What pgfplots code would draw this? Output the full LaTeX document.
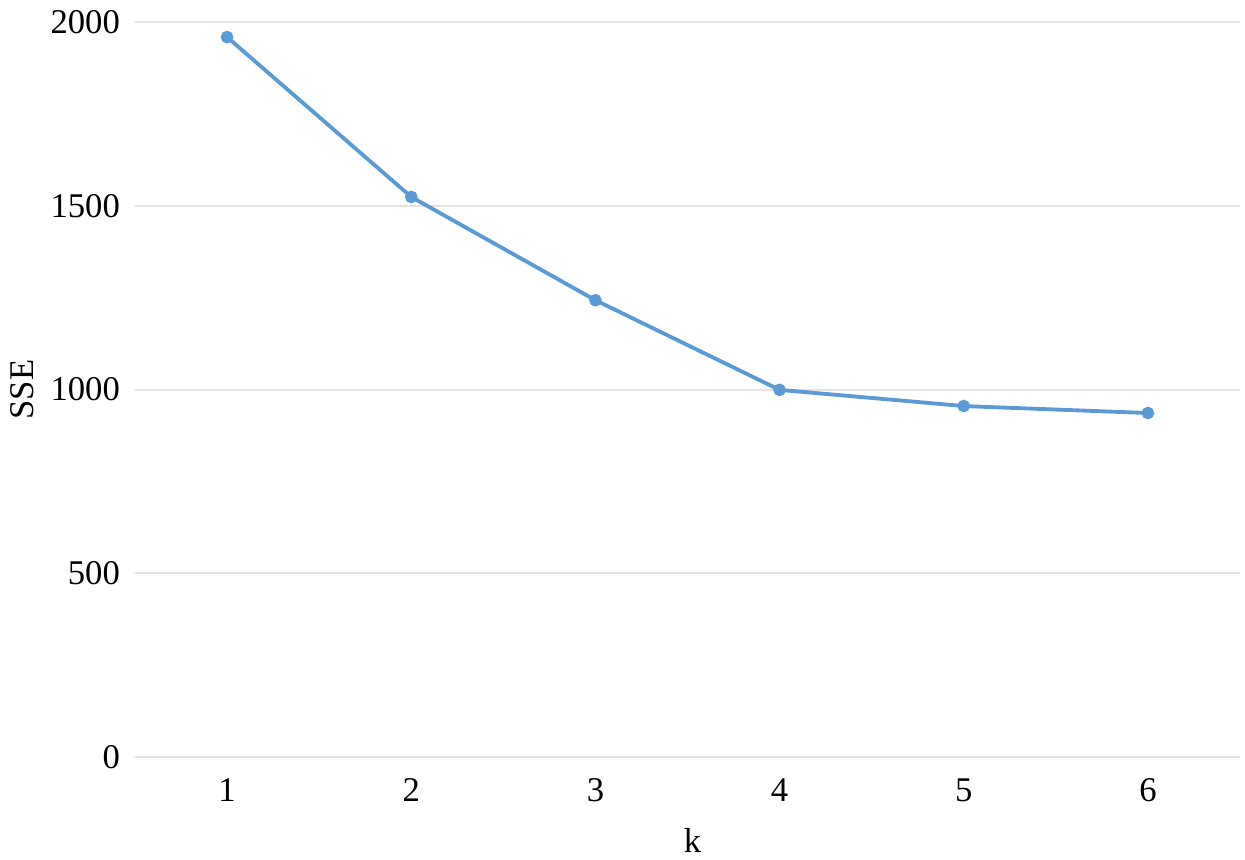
\documentclass[border=0pt]{standalone}
\usepackage{fontspec}
\setmainfont{Liberation Serif}
\usepackage{pgfplots}
\pgfplotsset{compat=1.18}
\definecolor{lineblue}{HTML}{5B9BD5}
\definecolor{gridgray}{HTML}{E3E3E3}
\begin{document}
\begin{tikzpicture}[x=1pt,y=1pt]
\begin{axis}[
  name=ax,
  scale only axis,
  width=331.5pt, height=220.5pt,
  xmin=0.5, xmax=6.5, ymin=0, ymax=2000,
  xtick={1,2,3,4,5,6},
  ytick={0,500,1000,1500,2000},
  axis line style={draw=none},
  major tick length=0pt,
  ymajorgrids,
  grid style={gridgray, line width=0.6pt},
  /pgf/number format/assume math mode=true,
  /pgf/number format/set thousands separator={},
  tick label style={font=\fontsize{10.4}{12}\selectfont},
  yticklabel style={xshift=-1pt},
  xticklabel style={yshift=-3pt},
  xlabel={k}, ylabel={SSE},
  label style={font=\fontsize{10.4}{12}\selectfont},
  xlabel style={yshift=-1pt, xshift=1.5pt},
  ylabel style={yshift=-2pt},
]
  \addplot[lineblue, line width=1.15pt, mark=*, mark size=1.3pt] coordinates {
    (1,1959) (2,1524) (3,1243) (4,999) (5,955) (6,936)};
\end{axis}
\pgfresetboundingbox
\path ([shift={(-40.5pt,-30.6pt)}]ax.south west) rectangle ([shift={(1.5pt,6.6pt)}]ax.north east);
\end{tikzpicture}
\end{document}
